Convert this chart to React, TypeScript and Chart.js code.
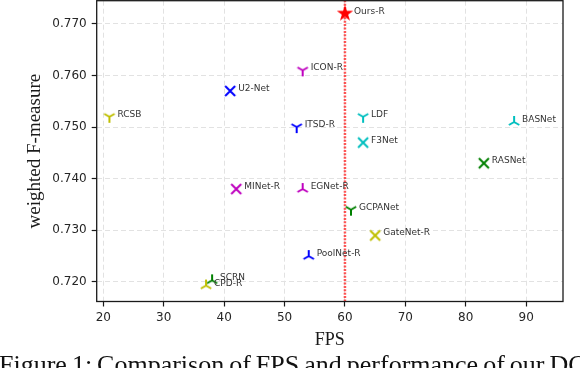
import React, { useEffect, useRef } from "react";
import { Chart, registerables } from "chart.js";
Chart.register(...registerables);

const methods = ["Ours-R", "ICON-R", "U2-Net", "RCSB", "ITSD-R", "LDF", "F3Net", "BASNet", "RASNet", "MINet-R", "EGNet-R", "GCPANet", "GateNet-R", "PoolNet-R", "SCRN", "CPD-R"];
const fps = [60, 53, 41, 21, 52, 63, 63, 88, 83, 42, 53, 61, 65, 54, 38, 37];
const weightedF = [0.772, 0.761, 0.757, 0.752, 0.750, 0.752, 0.747, 0.751, 0.743, 0.738, 0.738, 0.734, 0.729, 0.725, 0.7203, 0.7193];
const markerKinds = ["star", "tri_down", "x", "tri_down", "tri_down", "tri_down", "x", "tri_up", "x", "x", "tri_up", "tri_down", "x", "tri_up", "tri_up", "tri_up"];
const markerColors = ["#ff0000", "#bf00bf", "#0000ff", "#bfbf00", "#0000ff", "#00bfbf", "#00bfbf", "#00bfbf", "#008000", "#bf00bf", "#bf00bf", "#008000", "#bfbf00", "#0000ff", "#008000", "#bfbf00"];
const xTicks = [20, 30, 40, 50, 60, 70, 80, 90];
const yTicks = [0.72, 0.73, 0.74, 0.75, 0.76, 0.77];
const xRange = [18.9, 96.1];
const yRange = [0.7162, 0.7745];
const refLineX = [60, 60];
const refLineY = [0.7162, 0.7745];

function makeMarker(kind: string, color: string): HTMLCanvasElement {
  const c = document.createElement("canvas");
  const size = kind === "star" ? 20 : 16;
  c.width = size;
  c.height = size;
  const ctx = c.getContext("2d")!;
  const m = size / 2;
  ctx.strokeStyle = color;
  ctx.fillStyle = color;
  ctx.lineWidth = 2;
  ctx.lineCap = "butt";
  if (kind === "star") {
    const R = 8.6;
    const r = R * 0.382;
    ctx.beginPath();
    for (let i = 0; i < 10; i++) {
      const rad = i % 2 === 0 ? R : r;
      const a = -Math.PI / 2 + (i * Math.PI) / 5;
      const px = m + rad * Math.cos(a);
      const py = m + rad * Math.sin(a);
      if (i === 0) ctx.moveTo(px, py);
      else ctx.lineTo(px, py);
    }
    ctx.closePath();
    ctx.fill();
  } else if (kind === "x") {
    const h = 5;
    ctx.beginPath();
    ctx.moveTo(m - h, m - h);
    ctx.lineTo(m + h, m + h);
    ctx.moveTo(m - h, m + h);
    ctx.lineTo(m + h, m - h);
    ctx.stroke();
  } else {
    const r = 6;
    const s = kind === "tri_down" ? 1 : -1;
    ctx.beginPath();
    ctx.moveTo(m, m);
    ctx.lineTo(m, m + s * r);
    ctx.moveTo(m, m);
    ctx.lineTo(m - 0.866 * r, m - s * 0.5 * r);
    ctx.moveTo(m, m);
    ctx.lineTo(m + 0.866 * r, m - s * 0.5 * r);
    ctx.stroke();
  }
  return c;
}

export default function App() {
  const ref = useRef<HTMLCanvasElement | null>(null);

  useEffect(() => {
    if (!ref.current) return;
    const styles = markerKinds.map((k, i) => makeMarker(k, markerColors[i]));

    const labelPlugin = {
      id: "pointLabels",
      afterDatasetsDraw(chart: any) {
        const ctx = chart.ctx;
        const meta = chart.getDatasetMeta(0);
        ctx.save();
        ctx.font = '9px "DejaVu Sans"';
        ctx.fillStyle = "#333333";
        ctx.textAlign = "left";
        ctx.textBaseline = "alphabetic";
        meta.data.forEach((pt: any, i: number) => {
          const dx = markerKinds[i] === "star" ? 9 : 8;
          ctx.fillText(methods[i], pt.x + dx, pt.y);
        });
        ctx.restore();
      },
      afterDraw(chart: any) {
        const { ctx, chartArea } = chart;
        ctx.save();
        ctx.strokeStyle = "#1a1a1a";
        ctx.lineWidth = 1.3;
        ctx.strokeRect(chartArea.left, chartArea.top, chartArea.right - chartArea.left, chartArea.bottom - chartArea.top);
        ctx.restore();
      },
    };

    const chart = new Chart(ref.current, {
      type: "scatter",
      data: {
        datasets: [
          {
            type: "scatter",
            data: fps.map((x, i) => ({ x, y: weightedF[i] })),
            pointStyle: styles as any,
            pointRadius: 6,
            order: 0,
            clip: false,
          } as any,
          {
            type: "line",
            data: refLineX.map((x, i) => ({ x, y: refLineY[i] })),
            borderColor: "rgba(255,30,30,0.75)",
            borderWidth: 2.5,
            borderDash: [2, 1.4],
            pointRadius: 0,
            showLine: true,
            fill: false,
            order: 1,
          } as any,
        ],
      },
      options: {
        responsive: false,
        animation: false,
        events: [],
        layout: { autoPadding: false, padding: { left: 0, top: 0.7, right: 17, bottom: 0 } },
        plugins: { legend: { display: false }, tooltip: { enabled: false } },
        scales: {
          x: {
            type: "linear",
            min: xRange[0],
            max: xRange[1],
            afterBuildTicks: (s: any) => {
              s.ticks = xTicks.map((v) => ({ value: v }));
            },
            afterFit: (s: any) => {
              s.height = 66.5;
              s.paddingLeft = 0;
              s.paddingRight = 0;
            },
            ticks: {
              color: "#262626",
              font: { family: "DejaVu Sans", size: 12 },
              padding: 4,
              maxRotation: 0,
              callback: (v: any) => String(v),
            },
            grid: {
              color: "#e2e2e2",
              lineWidth: 1,
              tickLength: 5,
              tickColor: "#1a1a1a",
              tickWidth: 1.2,
              tickBorderDash: [],
            },
            border: { display: false, dash: [5, 3] },
            title: {
              display: true,
              text: "FPS",
              color: "#1a1a1a",
              font: { family: "Liberation Serif", size: 18 },
              padding: { top: 0, bottom: 17 },
            },
          },
          y: {
            type: "linear",
            min: yRange[0],
            max: yRange[1],
            afterBuildTicks: (s: any) => {
              s.ticks = yTicks.map((v) => ({ value: v }));
            },
            afterFit: (s: any) => {
              s.width = 96.7;
              s.paddingTop = 0;
              s.paddingBottom = 0;
            },
            ticks: {
              color: "#262626",
              font: { family: "DejaVu Sans", size: 12 },
              padding: 5,
              callback: (v: any) => Number(v).toFixed(3),
            },
            grid: {
              color: "#e2e2e2",
              lineWidth: 1,
              tickLength: 5,
              tickColor: "#1a1a1a",
              tickWidth: 1.2,
              tickBorderDash: [],
            },
            border: { display: false, dash: [5, 3] },
            title: {
              display: true,
              text: "weighted F-measure",
              color: "#1a1a1a",
              font: { family: "Liberation Serif", size: 19 },
              padding: { top: 24, bottom: 0 },
            },
          },
        },
      },
      plugins: [labelPlugin],
    } as any);
    return () => chart.destroy();
  }, []);

  return (
    <div style={{ position: "fixed", left: 0, top: 0, width: 580, height: 368, overflow: "hidden", background: "#fff" }}>
      <canvas ref={ref} width={580} height={368} style={{ position: "absolute", left: 0, top: 0, width: 580, height: 368 }} />
      <div
        style={{
          position: "absolute",
          left: -1,
          top: 351.5,
          whiteSpace: "nowrap",
          fontFamily: '"Liberation Serif", serif',
          fontSize: 26,
          lineHeight: "26px",
          wordSpacing: -1.5,
          color: "#111",
        }}
      >
        Figure 1: Comparison of FPS and performance of our DC
      </div>
    </div>
  );
}
